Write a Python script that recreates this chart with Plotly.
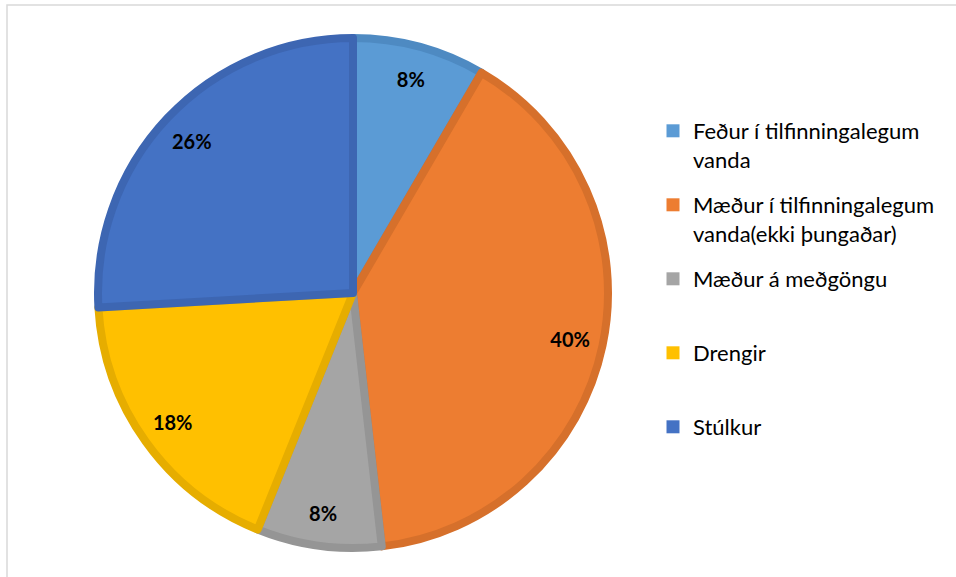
import plotly.graph_objects as go

categories = ["Feður í tilfinningalegum<br>vanda",
              "Mæður í tilfinningalegum<br>vanda(ekki þungaðar)",
              "Mæður á meðgöngu",
              "Drengir",
              "Stúlkur"]
values = [8.4, 39.8, 7.9, 18.0, 25.9]
fill_colors = ["#5B9BD5", "#ED7D31", "#A5A5A5", "#FFC000", "#4472C4"]
edge_colors = ["#4E8AC2", "#D6702B", "#959595", "#E6AD00", "#3D66B2"]

W, H = 956, 577
cx, cy, r = 353, 293, 255
dom_x = [(cx - r) / W, (cx + r) / W]
dom_y = [1 - (cy + r) / H, 1 - (cy - r) / H]

fig = go.Figure()
fig.add_trace(go.Pie(
    labels=categories, values=values, sort=False, direction="clockwise",
    marker=dict(colors=fill_colors, line=dict(color=edge_colors, width=8)),
    textinfo="none", domain=dict(x=dom_x, y=dom_y), hoverinfo="label+percent",
    showlegend=False,
))
fig.add_trace(go.Pie(
    labels=categories, values=values, sort=False, direction="clockwise", hole=0.74,
    marker=dict(colors=["rgba(0,0,0,0)"] * 5, line=dict(width=0)),
    texttemplate="%{percent:.0%}", textposition="inside",
    insidetextorientation="horizontal",
    textfont=dict(family="Lato", size=20, color="black", weight="bold"),
    showlegend=False, hoverinfo="skip", domain=dict(x=dom_x, y=dom_y),
))

# legend entries (one per category, each in its own group so that the
# groups can be spaced like the original legend)
for name, col in zip(categories, fill_colors):
    label = name if "<br>" in name else name + "<br> "
    fig.add_trace(go.Scatter(
        x=[None], y=[None], mode="markers", name=label, legendgroup=name,
        marker=dict(symbol="square", size=13, color=col, line=dict(width=0)),
        hoverinfo="skip",
    ))

fig.update_layout(
    width=W, height=H, margin=dict(l=0, r=0, t=0, b=0),
    paper_bgcolor="white", plot_bgcolor="white",
    xaxis=dict(visible=False), yaxis=dict(visible=False),
    legend=dict(x=653 / W, y=1 - 110 / H, xanchor="left", yanchor="top",
                valign="top", tracegroupgap=13.8, traceorder="grouped",
                font=dict(family="Lato", size=22, color="black"),
                bgcolor="rgba(0,0,0,0)"),
    shapes=[dict(type="rect", xref="paper", yref="paper",
                 x0=7 / W, x1=1.05, y0=-0.05, y1=1 - 5 / H,
                 line=dict(color="#D9D9D9", width=1.5), layer="below")],
)
fig.write_html("out.html", config={"displayModeBar": False},
               post_script="document.body.style.margin='0';")
